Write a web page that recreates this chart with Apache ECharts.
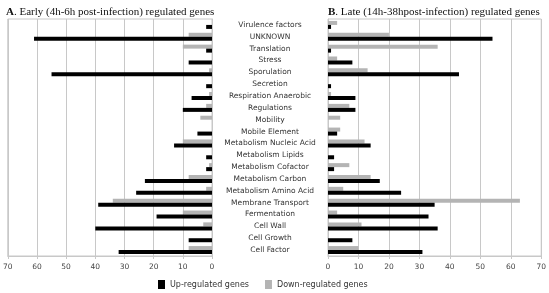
<!DOCTYPE html>
<html>
<head>
<meta charset="utf-8">
<script src="https://cdn.jsdelivr.net/npm/echarts@6/dist/echarts.min.js"></script>
<style>
  html, body { margin: 0; padding: 0; background: #fff; }
  #chart { width: 549px; height: 293px; }
</style>
</head>
<body>
<div id="chart"></div>
<script>
// categories, top to bottom
var categories = ['Virulence factors', 'UNKNOWN', 'Translation', 'Stress', 'Sporulation', 'Secretion',
    'Respiration Anaerobic', 'Regulations', 'Mobility', 'Mobile Element', 'Metabolism Nucleic Acid',
    'Metabolism Lipids', 'Metabolism Cofactor', 'Metabolism Carbon', 'Metabolism Amino Acid',
    'Membrane Transport', 'Fermentation', 'Cell Wall', 'Cell Growth', 'Cell Factor'];

// A. early (4h-6h)
var earlyUp = [2, 61, 2, 8, 55, 2, 7, 10, 0, 5, 13, 2, 2, 23, 26, 39, 19, 40, 8, 32];
var earlyDown = [0, 8, 10, 0, 1, 0, 1, 2, 4, 0, 10, 0, 1, 8, 2, 34, 10, 3, 0, 8];

// B. late (14h-38h)
var lateUp = [1, 54, 1, 8, 43, 1, 9, 9, 0, 3, 14, 2, 2, 17, 24, 35, 33, 36, 8, 31];
var lateDown = [3, 20, 36, 3, 13, 0, 1, 7, 4, 4, 12, 0, 7, 14, 5, 63, 3, 11, 0, 10];

var upColor = '#000000';
var downColor = '#b4b4b4';
var gridColor = '#c8c8c8';
var sans = 'DejaVu Sans';
var serif = 'Liberation Serif';

var chart = echarts.init(document.getElementById('chart'));

function valueAxis(idx, inverse) {
    return {
        type: 'value',
        gridIndex: idx,
        min: 0,
        max: 70,
        interval: 10,
        inverse: inverse,
        axisLine: { show: true, lineStyle: { color: gridColor } },
        axisTick: { show: true, length: 3, lineStyle: { color: gridColor } },
        axisLabel: { fontFamily: sans, fontSize: 7.5, color: '#444', margin: 7 },
        splitLine: { show: true, lineStyle: { color: gridColor, width: 1 } }
    };
}

var option = {
    animation: false,
    title: [{
        text: '{b|A}. Early (4h-6h post-infection) regulated genes',
        left: 1,
        top: 2,
        textStyle: {
            fontFamily: serif, fontSize: 11, fontWeight: 'normal', color: '#111',
            rich: { b: { fontFamily: serif, fontSize: 11, fontWeight: 'bold', color: '#111' } }
        }
    }, {
        text: '{b|B}. Late (14h-38hpost-infection) regulated genes',
        left: 323,
        top: 2,
        textStyle: {
            fontFamily: serif, fontSize: 11, fontWeight: 'normal', color: '#111',
            rich: { b: { fontFamily: serif, fontSize: 11, fontWeight: 'bold', color: '#111' } }
        }
    }],
    legend: {
        top: 278,
        left: 156,
        padding: 2,
        itemWidth: 7,
        itemHeight: 9,
        itemGap: 16,
        icon: 'rect',
        textStyle: { fontFamily: sans, fontSize: 8, color: '#333' },
        data: ['Up-regulated genes', 'Down-regulated genes']
    },
    grid: [
        { left: 6, right: 337, top: 19, bottom: 37, show: true, borderColor: gridColor, borderWidth: 1 },
        { left: 328, right: 6, top: 19, bottom: 37, show: true, borderColor: gridColor, borderWidth: 1 }
    ],
    xAxis: [valueAxis(0, true), valueAxis(1, false)],
    yAxis: [{
        type: 'category',
        gridIndex: 0,
        data: categories,
        inverse: true,
        position: 'right',
        axisLine: { show: true, lineStyle: { color: gridColor } },
        axisTick: { show: false },
        axisLabel: { fontFamily: sans, fontSize: 7.5, color: '#333', margin: 58, align: 'center', interval: 0 }
    }, {
        type: 'category',
        gridIndex: 1,
        data: categories,
        inverse: true,
        axisLine: { show: true, lineStyle: { color: gridColor } },
        axisTick: { show: false },
        axisLabel: { show: false }
    }],
    series: [{
        name: 'Down-regulated genes',
        type: 'bar',
        xAxisIndex: 0, yAxisIndex: 0,
        data: earlyDown,
        barWidth: 4,
        barGap: '0%',
        itemStyle: { color: downColor }
    }, {
        name: 'Up-regulated genes',
        type: 'bar',
        xAxisIndex: 0, yAxisIndex: 0,
        data: earlyUp,
        barWidth: 4,
        barGap: '0%',
        itemStyle: { color: upColor }
    }, {
        name: 'Down-regulated genes',
        type: 'bar',
        xAxisIndex: 1, yAxisIndex: 1,
        data: lateDown,
        barWidth: 4,
        barGap: '0%',
        itemStyle: { color: downColor }
    }, {
        name: 'Up-regulated genes',
        type: 'bar',
        xAxisIndex: 1, yAxisIndex: 1,
        data: lateUp,
        barWidth: 4,
        barGap: '0%',
        itemStyle: { color: upColor }
    }]
};

chart.setOption(option);
</script>
</body>
</html>
